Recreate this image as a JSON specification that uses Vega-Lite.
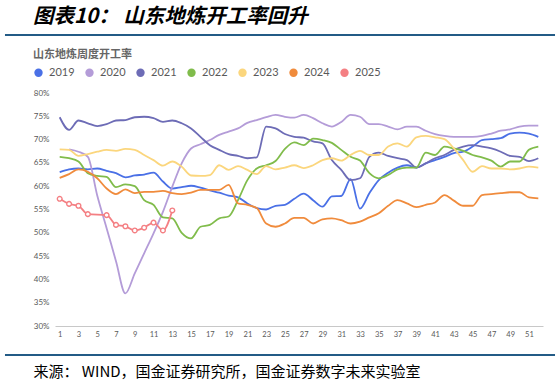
{
"$schema": "https://vega.github.io/schema/vega-lite/v6.json",
"width": 488, "height": 233,
"autosize": {"type": "none"},
"padding": {"left": 55, "top": 93, "right": 16, "bottom": 59},
"background": "white",
"config": {"view": {"stroke": null}, "axisX": {"labelOverlap": false, "labelBound": false, "labelFlush": false}},
"title": {"text": "图表10： 山东地炼开工率回升", "anchor": "start", "frame": "group", "dx": -22, "offset": 6, "font": "Noto Sans CJK SC", "fontSize": 20.5, "fontWeight": "bold", "fontStyle": "italic", "color": "#000000"},
"resolve": {"axis": {"x": "independent", "y": "independent"}},
"datasets": {
"one": [{}],
"series": [
{"s":"2019","w":1,"v":63.0},{"s":"2019","w":2,"v":63.6},{"s":"2019","w":3,"v":63.8},{"s":"2019","w":4,"v":63.6},{"s":"2019","w":5,"v":63.8},{"s":"2019","w":6,"v":63.3},{"s":"2019","w":7,"v":62.8},{"s":"2019","w":8,"v":61.9},{"s":"2019","w":9,"v":62.3},{"s":"2019","w":10,"v":62.5},{"s":"2019","w":11,"v":62.9},{"s":"2019","w":12,"v":61.0},{"s":"2019","w":13,"v":59.5},{"s":"2019","w":14,"v":59.8},{"s":"2019","w":15,"v":60.1},{"s":"2019","w":16,"v":59.7},{"s":"2019","w":17,"v":59.1},{"s":"2019","w":18,"v":58.6},{"s":"2019","w":19,"v":58.0},{"s":"2019","w":20,"v":57.6},{"s":"2019","w":21,"v":56.3},{"s":"2019","w":22,"v":55.3},{"s":"2019","w":23,"v":55.0},{"s":"2019","w":24,"v":55.8},{"s":"2019","w":25,"v":56.0},{"s":"2019","w":26,"v":57.3},{"s":"2019","w":27,"v":58.4},{"s":"2019","w":28,"v":57.0},{"s":"2019","w":29,"v":55.6},{"s":"2019","w":30,"v":57.8},{"s":"2019","w":31,"v":57.9},{"s":"2019","w":32,"v":61.5},{"s":"2019","w":33,"v":55.2},{"s":"2019","w":34,"v":58.5},{"s":"2019","w":35,"v":61.3},{"s":"2019","w":36,"v":62.9},{"s":"2019","w":37,"v":64.0},{"s":"2019","w":38,"v":64.5},{"s":"2019","w":39,"v":64.0},{"s":"2019","w":40,"v":64.9},{"s":"2019","w":41,"v":65.6},{"s":"2019","w":42,"v":66.3},{"s":"2019","w":43,"v":67.1},{"s":"2019","w":44,"v":67.4},{"s":"2019","w":45,"v":68.5},{"s":"2019","w":46,"v":69.9},{"s":"2019","w":47,"v":70.1},{"s":"2019","w":48,"v":70.3},{"s":"2019","w":49,"v":71.3},{"s":"2019","w":50,"v":71.5},{"s":"2019","w":51,"v":71.3},{"s":"2019","w":52,"v":70.6},
{"s":"2020","w":2,"v":67.9},{"s":"2020","w":3,"v":67.4},{"s":"2020","w":4,"v":66.3},{"s":"2020","w":5,"v":58.0},{"s":"2020","w":6,"v":51.0},{"s":"2020","w":7,"v":43.9},{"s":"2020","w":8,"v":37.0},{"s":"2020","w":9,"v":41.3},{"s":"2020","w":10,"v":45.6},{"s":"2020","w":11,"v":49.9},{"s":"2020","w":12,"v":54.5},{"s":"2020","w":13,"v":59.9},{"s":"2020","w":14,"v":64.9},{"s":"2020","w":15,"v":68.1},{"s":"2020","w":16,"v":69.0},{"s":"2020","w":17,"v":69.9},{"s":"2020","w":18,"v":71.0},{"s":"2020","w":19,"v":71.7},{"s":"2020","w":20,"v":72.4},{"s":"2020","w":21,"v":73.6},{"s":"2020","w":22,"v":74.2},{"s":"2020","w":23,"v":74.8},{"s":"2020","w":24,"v":75.3},{"s":"2020","w":25,"v":74.9},{"s":"2020","w":26,"v":74.7},{"s":"2020","w":27,"v":75.3},{"s":"2020","w":28,"v":74.6},{"s":"2020","w":29,"v":73.5},{"s":"2020","w":30,"v":72.8},{"s":"2020","w":31,"v":73.8},{"s":"2020","w":32,"v":75.3},{"s":"2020","w":33,"v":74.9},{"s":"2020","w":34,"v":73.3},{"s":"2020","w":35,"v":73.3},{"s":"2020","w":36,"v":72.8},{"s":"2020","w":37,"v":72.2},{"s":"2020","w":38,"v":72.8},{"s":"2020","w":39,"v":72.8},{"s":"2020","w":40,"v":71.9},{"s":"2020","w":41,"v":71.2},{"s":"2020","w":42,"v":70.8},{"s":"2020","w":43,"v":70.6},{"s":"2020","w":44,"v":70.6},{"s":"2020","w":45,"v":70.6},{"s":"2020","w":46,"v":70.8},{"s":"2020","w":47,"v":71.3},{"s":"2020","w":48,"v":71.9},{"s":"2020","w":49,"v":72.2},{"s":"2020","w":50,"v":72.8},{"s":"2020","w":51,"v":73.0},{"s":"2020","w":52,"v":73.0},
{"s":"2021","w":1,"v":74.8},{"s":"2021","w":2,"v":72.1},{"s":"2021","w":3,"v":74.1},{"s":"2021","w":4,"v":73.5},{"s":"2021","w":5,"v":72.9},{"s":"2021","w":6,"v":73.3},{"s":"2021","w":7,"v":74.1},{"s":"2021","w":8,"v":74.2},{"s":"2021","w":9,"v":74.8},{"s":"2021","w":10,"v":74.9},{"s":"2021","w":11,"v":74.6},{"s":"2021","w":12,"v":73.8},{"s":"2021","w":13,"v":74.1},{"s":"2021","w":14,"v":73.5},{"s":"2021","w":15,"v":72.4},{"s":"2021","w":16,"v":70.6},{"s":"2021","w":17,"v":68.8},{"s":"2021","w":18,"v":67.8},{"s":"2021","w":19,"v":66.9},{"s":"2021","w":20,"v":66.5},{"s":"2021","w":21,"v":66.0},{"s":"2021","w":22,"v":66.2},{"s":"2021","w":23,"v":72.8},{"s":"2021","w":24,"v":72.4},{"s":"2021","w":25,"v":71.2},{"s":"2021","w":26,"v":70.6},{"s":"2021","w":27,"v":70.4},{"s":"2021","w":28,"v":69.6},{"s":"2021","w":29,"v":69.2},{"s":"2021","w":30,"v":65.6},{"s":"2021","w":31,"v":63.5},{"s":"2021","w":32,"v":61.3},{"s":"2021","w":33,"v":61.7},{"s":"2021","w":34,"v":66.3},{"s":"2021","w":35,"v":67.2},{"s":"2021","w":36,"v":66.5},{"s":"2021","w":37,"v":66.0},{"s":"2021","w":38,"v":65.6},{"s":"2021","w":39,"v":64.0},{"s":"2021","w":40,"v":64.9},{"s":"2021","w":41,"v":66.0},{"s":"2021","w":42,"v":66.7},{"s":"2021","w":43,"v":67.8},{"s":"2021","w":44,"v":68.5},{"s":"2021","w":45,"v":68.8},{"s":"2021","w":46,"v":68.5},{"s":"2021","w":47,"v":68.1},{"s":"2021","w":48,"v":67.4},{"s":"2021","w":49,"v":66.5},{"s":"2021","w":50,"v":66.3},{"s":"2021","w":51,"v":65.4},{"s":"2021","w":52,"v":66.0},
{"s":"2022","w":1,"v":66.3},{"s":"2022","w":2,"v":66.0},{"s":"2022","w":3,"v":65.3},{"s":"2022","w":4,"v":62.8},{"s":"2022","w":5,"v":62.2},{"s":"2022","w":6,"v":62.0},{"s":"2022","w":7,"v":59.8},{"s":"2022","w":8,"v":60.4},{"s":"2022","w":9,"v":60.0},{"s":"2022","w":10,"v":57.0},{"s":"2022","w":11,"v":56.0},{"s":"2022","w":12,"v":53.3},{"s":"2022","w":13,"v":53.1},{"s":"2022","w":14,"v":50.0},{"s":"2022","w":15,"v":48.8},{"s":"2022","w":16,"v":51.3},{"s":"2022","w":17,"v":51.7},{"s":"2022","w":18,"v":53.1},{"s":"2022","w":19,"v":53.5},{"s":"2022","w":20,"v":57.0},{"s":"2022","w":21,"v":61.3},{"s":"2022","w":22,"v":63.8},{"s":"2022","w":23,"v":64.5},{"s":"2022","w":24,"v":65.4},{"s":"2022","w":25,"v":68.0},{"s":"2022","w":26,"v":69.4},{"s":"2022","w":27,"v":68.8},{"s":"2022","w":28,"v":70.2},{"s":"2022","w":29,"v":69.9},{"s":"2022","w":30,"v":69.3},{"s":"2022","w":31,"v":67.8},{"s":"2022","w":32,"v":66.3},{"s":"2022","w":33,"v":65.5},{"s":"2022","w":34,"v":62.8},{"s":"2022","w":35,"v":61.7},{"s":"2022","w":36,"v":62.4},{"s":"2022","w":37,"v":63.6},{"s":"2022","w":38,"v":64.0},{"s":"2022","w":39,"v":64.0},{"s":"2022","w":40,"v":67.2},{"s":"2022","w":41,"v":66.7},{"s":"2022","w":42,"v":68.5},{"s":"2022","w":43,"v":68.1},{"s":"2022","w":44,"v":67.6},{"s":"2022","w":45,"v":66.7},{"s":"2022","w":46,"v":66.2},{"s":"2022","w":47,"v":65.5},{"s":"2022","w":48,"v":64.2},{"s":"2022","w":49,"v":65.3},{"s":"2022","w":50,"v":65.3},{"s":"2022","w":51,"v":67.8},{"s":"2022","w":52,"v":68.5},
{"s":"2023","w":1,"v":67.9},{"s":"2023","w":2,"v":67.8},{"s":"2023","w":3,"v":66.5},{"s":"2023","w":4,"v":66.9},{"s":"2023","w":5,"v":67.4},{"s":"2023","w":6,"v":67.8},{"s":"2023","w":7,"v":67.6},{"s":"2023","w":8,"v":68.0},{"s":"2023","w":9,"v":67.8},{"s":"2023","w":10,"v":66.7},{"s":"2023","w":11,"v":65.6},{"s":"2023","w":12,"v":64.4},{"s":"2023","w":13,"v":65.3},{"s":"2023","w":14,"v":64.2},{"s":"2023","w":15,"v":62.3},{"s":"2023","w":16,"v":62.2},{"s":"2023","w":17,"v":62.4},{"s":"2023","w":18,"v":64.5},{"s":"2023","w":19,"v":63.5},{"s":"2023","w":20,"v":64.3},{"s":"2023","w":21,"v":63.5},{"s":"2023","w":22,"v":62.6},{"s":"2023","w":23,"v":64.3},{"s":"2023","w":24,"v":63.6},{"s":"2023","w":25,"v":64.0},{"s":"2023","w":26,"v":64.5},{"s":"2023","w":27,"v":63.9},{"s":"2023","w":28,"v":64.5},{"s":"2023","w":29,"v":65.6},{"s":"2023","w":30,"v":66.0},{"s":"2023","w":31,"v":65.5},{"s":"2023","w":32,"v":66.7},{"s":"2023","w":33,"v":67.6},{"s":"2023","w":34,"v":66.7},{"s":"2023","w":35,"v":66.7},{"s":"2023","w":36,"v":68.5},{"s":"2023","w":37,"v":69.2},{"s":"2023","w":38,"v":68.5},{"s":"2023","w":39,"v":70.5},{"s":"2023","w":40,"v":70.8},{"s":"2023","w":41,"v":70.5},{"s":"2023","w":42,"v":70.1},{"s":"2023","w":43,"v":68.1},{"s":"2023","w":44,"v":65.6},{"s":"2023","w":45,"v":63.1},{"s":"2023","w":46,"v":64.3},{"s":"2023","w":47,"v":63.8},{"s":"2023","w":48,"v":63.8},{"s":"2023","w":49,"v":63.6},{"s":"2023","w":50,"v":63.8},{"s":"2023","w":51,"v":64.2},{"s":"2023","w":52,"v":64.0},
{"s":"2024","w":1,"v":61.8},{"s":"2024","w":2,"v":62.6},{"s":"2024","w":3,"v":63.6},{"s":"2024","w":4,"v":63.1},{"s":"2024","w":5,"v":61.7},{"s":"2024","w":6,"v":59.5},{"s":"2024","w":7,"v":58.3},{"s":"2024","w":8,"v":59.3},{"s":"2024","w":9,"v":58.5},{"s":"2024","w":10,"v":58.8},{"s":"2024","w":11,"v":58.8},{"s":"2024","w":12,"v":59.0},{"s":"2024","w":13,"v":58.5},{"s":"2024","w":14,"v":58.3},{"s":"2024","w":15,"v":58.6},{"s":"2024","w":16,"v":59.2},{"s":"2024","w":17,"v":59.2},{"s":"2024","w":18,"v":59.2},{"s":"2024","w":19,"v":60.3},{"s":"2024","w":20,"v":56.3},{"s":"2024","w":21,"v":56.0},{"s":"2024","w":22,"v":55.3},{"s":"2024","w":23,"v":52.0},{"s":"2024","w":24,"v":51.3},{"s":"2024","w":25,"v":52.0},{"s":"2024","w":26,"v":53.2},{"s":"2024","w":27,"v":53.2},{"s":"2024","w":28,"v":52.0},{"s":"2024","w":29,"v":52.9},{"s":"2024","w":30,"v":53.1},{"s":"2024","w":31,"v":52.7},{"s":"2024","w":32,"v":52.0},{"s":"2024","w":33,"v":52.4},{"s":"2024","w":34,"v":53.3},{"s":"2024","w":35,"v":54.2},{"s":"2024","w":36,"v":55.8},{"s":"2024","w":37,"v":57.0},{"s":"2024","w":38,"v":56.3},{"s":"2024","w":39,"v":55.5},{"s":"2024","w":40,"v":56.0},{"s":"2024","w":41,"v":56.5},{"s":"2024","w":42,"v":58.1},{"s":"2024","w":43,"v":56.9},{"s":"2024","w":44,"v":55.8},{"s":"2024","w":45,"v":55.8},{"s":"2024","w":46,"v":58.1},{"s":"2024","w":47,"v":58.3},{"s":"2024","w":48,"v":58.5},{"s":"2024","w":49,"v":58.7},{"s":"2024","w":50,"v":58.7},{"s":"2024","w":51,"v":57.6},{"s":"2024","w":52,"v":57.4},
{"s":"2025","w":1,"v":57.3},{"s":"2025","w":2,"v":56.2},{"s":"2025","w":3,"v":55.8},{"s":"2025","w":4,"v":54.0},{"s":"2025","w":6,"v":53.8},{"s":"2025","w":7,"v":51.7},{"s":"2025","w":8,"v":51.4},{"s":"2025","w":9,"v":50.5},{"s":"2025","w":10,"v":51.1},{"s":"2025","w":11,"v":52.2},{"s":"2025","w":12,"v":50.5},{"s":"2025","w":13,"v":54.8}
]},
"layer": [
{"data": {"name": "series"},
 "mark": {"type": "line", "interpolate": "monotone", "strokeWidth": 1.8},
 "encoding": {
  "x": {"field": "w", "type": "quantitative",
   "scale": {"domain": [0.5, 52.5], "nice": false, "zero": false},
   "axis": {"values": [1,3,5,7,9,11,13,15,17,19,21,23,25,27,29,31,33,35,37,39,41,43,45,47,49,51], "labelOverlap": false, "grid": false, "ticks": false, "domainColor": "#c8c8c8", "domainWidth": 1, "labelFont": "Lato", "labelFontSize": 7.5, "labelColor": "#595959", "labelPadding": 4,
    "title": "来源：  WIND，国金证券研究所，国金证券数字未来实验室", "titleFont": "Noto Sans CJK SC", "titleFontSize": 15, "titleFontWeight": "normal", "titleColor": "#000000", "titleAnchor": "start", "titleAlign": "left", "titleBaseline": "middle", "titleX": -22, "titleY": 45}},
  "y": {"field": "v", "type": "quantitative",
   "scale": {"domain": [30, 80], "nice": false, "zero": false},
   "axis": {"values": [30,35,40,45,50,55,60,65,70,75,80], "labelExpr": "datum.value + '%'", "grid": false, "ticks": false, "domain": false, "labelFont": "Lato", "labelFontSize": 8, "labelColor": "#595959", "labelPadding": 6, "title": null}},
  "color": {"field": "s", "type": "nominal",
   "scale": {"domain": ["2019","2020","2021","2022","2023","2024","2025"], "range": ["#4a70e6","#b49cd8","#6d6cb6","#80bc4b","#fbd67d","#f08b3c","#f47f83"]},
   "legend": {"orient": "none", "legendX": -22, "legendY": -44, "direction": "horizontal", "title": "山东地炼周度开工率", "titleFont": "Noto Sans CJK SC", "titleFontSize": 11, "titleFontWeight": "bold", "titleColor": "#666666", "titlePadding": 7, "labelFont": "Lato", "labelFontSize": 11, "labelColor": "#595959", "symbolType": "circle", "symbolSize": 70, "labelOffset": 5, "columnPadding": 9,
    "encode": {"symbols": {"update": {"fill": {"scale": "color", "field": "value"}, "strokeWidth": {"value": 0}}}}}}
 }},
{"data": {"name": "series"},
 "transform": [{"filter": "datum.s == '2025'"}],
 "mark": {"type": "point", "filled": false, "fill": "white", "stroke": "#f47f83", "strokeWidth": 1.4, "size": 22, "opacity": 1},
 "encoding": {"x": {"field": "w", "type": "quantitative", "axis": null}, "y": {"field": "v", "type": "quantitative", "axis": null}}},
{"data": {"name": "one"},
 "mark": {"type": "rule", "color": "#235b86", "strokeWidth": 2},
 "encoding": {"x": {"datum": -4.83, "type": "quantitative", "axis": null}, "x2": {"datum": 53.78}, "y": {"datum": 92.45, "type": "quantitative", "axis": null}}},
{"data": {"name": "one"},
 "mark": {"type": "rule", "color": "#235b86", "strokeWidth": 2},
 "encoding": {"x": {"datum": -4.83, "type": "quantitative", "axis": null}, "x2": {"datum": 53.78}, "y": {"datum": 23.78, "type": "quantitative", "axis": null}}}
]
}
